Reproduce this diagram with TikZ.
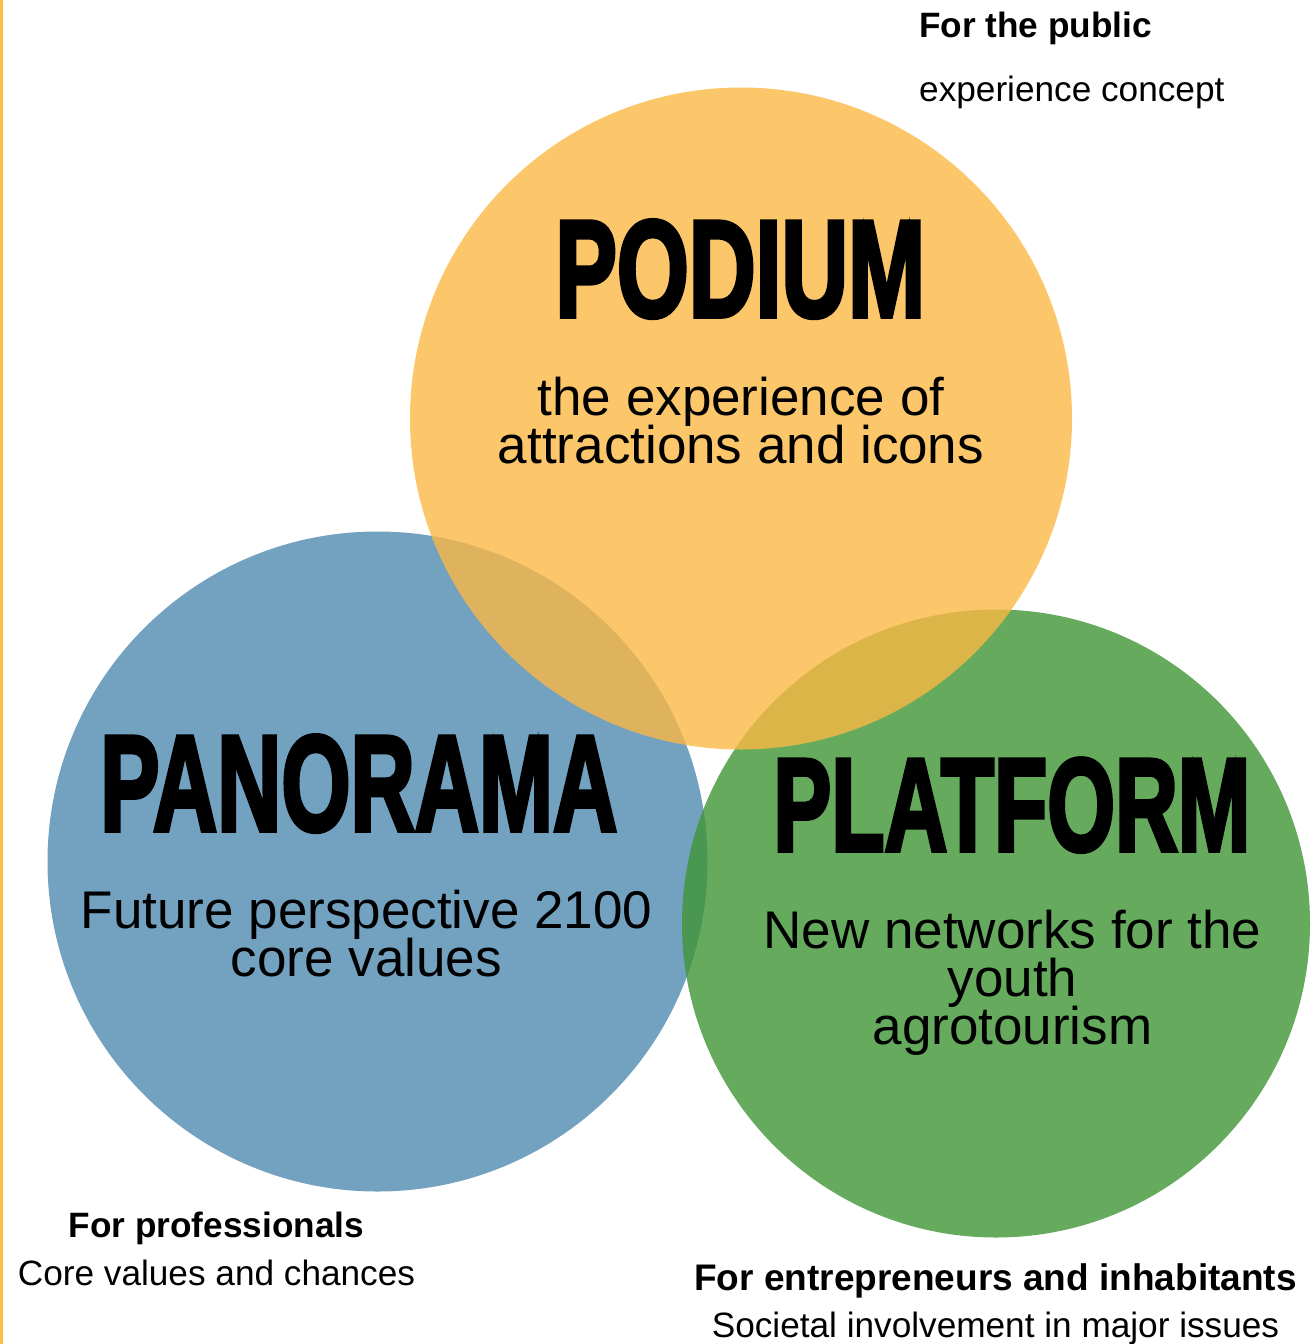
\documentclass[tikz,border=0pt]{standalone}
\usepackage{fontspec}
\setmainfont{Liberation Sans}
\newfontfamily\headfont[BoldFeatures={FakeBold=3.5}]{Liberation Sans}
\usepackage{graphicx}
\definecolor{orangeC}{RGB}{251,184,69}
\definecolor{blueC}{RGB}{115,161,192}
\definecolor{greenC}{RGB}{64,149,54}
\definecolor{edgeC}{RGB}{255,187,68}
\tikzset{
  bubble/.style={circle, draw=none, inner sep=0pt},
  head/.style={inner sep=0pt, anchor=south west, font=\headfont\bfseries},
  body/.style={inner sep=0pt, anchor=base, font=\fontsize{53}{48}\selectfont},
  tagbold/.style={inner sep=0pt, font=\bfseries\fontsize{35.2}{40}\selectfont},
  tagtext/.style={inner sep=0pt, font=\fontsize{35.2}{40}\selectfont},
}
\begin{document}
\begin{tikzpicture}[x=1pt,y=-1pt]
\useasboundingbox (0,0) rectangle (1313,1344);
\fill[edgeC] (0,0) rectangle (3,1344);
% circles
\node[bubble, fill=blueC, minimum size=660pt] (panc) at (377.5,861.5) {};
\node[bubble, fill=greenC, fill opacity=0.8, minimum size=628pt] (platc) at (996,923.5) {};
\node[bubble, fill=orangeC, fill opacity=0.8, minimum size=662pt] (podc) at (741,418.5) {};
% headings
\node[head] (podh) at (555,318) {\resizebox{370pt}{96pt}{PODIUM}};
\node[head] (panh) at (100,832) {\resizebox{517pt}{95pt}{PANORAMA}};
\node[head] (plath) at (773,852) {\resizebox{477pt}{92pt}{PLATFORM}};
% body texts
\node[body] (pod1) at (741,415) {the experience of};
\node[body] (pod2) at (741,463) {attractions and icons};
\node[body] (pan1) at (366.5,928) {Future perspective 2100};
\node[body] (pan2) at (366.5,976) {core values};
\node[body] (plat1) at (1012.5,948) {New networks for the};
\node[body] (plat2) at (1012.5,996) {youth};
\node[body] (plat3) at (1012.5,1044) {agrotourism};
% audience labels
\node[tagbold, anchor=base west] (pubh) at (919,37.5) {For the public};
\node[tagtext, anchor=base west] (pubt) at (919,101.5) {experience concept};
\node[tagbold, anchor=base] (proh) at (216.5,1237) {For professionals};
\node[tagtext, anchor=base] (prot) at (216.5,1285) {Core values and chances};
\node[tagbold, anchor=base, font=\bfseries\fontsize{37}{40}\selectfont] (enth) at (995.5,1290) {For entrepreneurs and inhabitants};
\node[tagtext, anchor=base] (entt) at (995.5,1337) {Societal involvement in major issues};
\end{tikzpicture}
\end{document}
